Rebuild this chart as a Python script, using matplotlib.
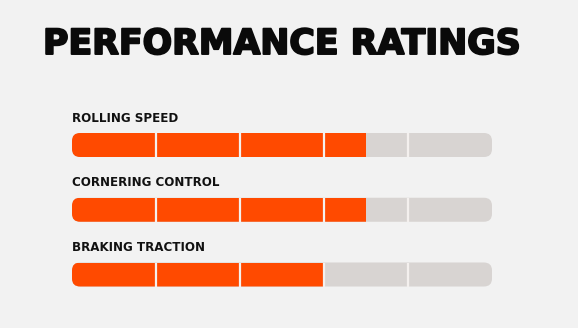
import matplotlib
matplotlib.use('Agg')
import matplotlib.pyplot as plt
import matplotlib.patheffects as pe
from matplotlib.patches import FancyBboxPatch

title = 'PERFORMANCE RATINGS'
labels = ['ROLLING SPEED', 'CORNERING CONTROL', 'BRAKING TRACTION']
ratings = [3.5, 3.5, 3.0]
max_rating = 5

bg = '#f2f2f2'
orange = '#ff4a00'
track = '#d8d4d2'

fig = plt.figure(figsize=(5.78, 3.28), dpi=100, facecolor=bg)
ax = fig.add_axes((0, 0, 1, 1))
ax.set_facecolor(bg)

# pixel scale: 84 px per rating unit, ~64.75 px per row
px_x = 84.0
px_y = 64.75
ax.set_xlim(-72 / px_x, (578 - 72) / px_x)
ax.set_ylim((328 - 145) / px_y, -145 / px_y)
ax.axis('off')

bar_h = 24 / px_y
r = 8 / px_x

for i, (lab, val) in enumerate(zip(labels, ratings)):
    tr = FancyBboxPatch((0, i - bar_h / 2), max_rating, bar_h,
                        boxstyle='round,pad=0,rounding_size=%f' % r,
                        mutation_aspect=px_x / px_y,
                        facecolor=track, edgecolor='none', zorder=1)
    ax.add_patch(tr)
    bars = ax.barh(i, val, left=0, height=bar_h, color=orange, zorder=2)
    for b in bars:
        b.set_clip_path(tr)
    for k in range(1, max_rating):
        ax.plot([k, k], [i - bar_h / 2, i + bar_h / 2], color='#f4f0ee',
                lw=1.6, zorder=3, solid_capstyle='butt')
    ax.text(0, i - 27 / px_y, lab, fontsize=8.6, fontweight='bold',
            family='DejaVu Sans', color='#111111',
            ha='left', va='center')

fig.text(43 / 578, 1 - 44 / 328, title, fontsize=25, fontweight='bold',
         family='DejaVu Sans', color='#0a0a0a',
         ha='left', va='center',
         path_effects=[pe.withStroke(linewidth=1.4, foreground='#0a0a0a')])

plt.savefig('out.png', dpi=100, facecolor=bg)
